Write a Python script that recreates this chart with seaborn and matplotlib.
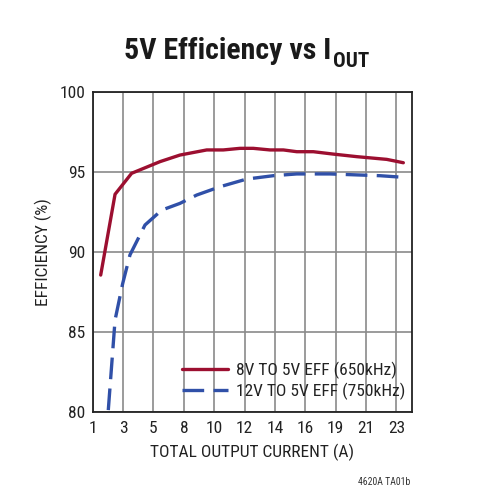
import matplotlib
matplotlib.use("Agg")
import matplotlib.pyplot as plt
import seaborn as sns
import pandas as pd
from matplotlib import font_manager
from matplotlib.font_manager import FontProperties

# ---- data ----
x_8v = [1.58, 2.62, 3.82, 5.88, 7.32, 9.26, 10.46, 11.67, 12.63, 13.84, 14.81,
        15.78, 16.98, 18.43, 20.13, 22.3, 23.5]
eff_8v = [88.54, 93.59, 94.9, 95.63, 96.04, 96.36, 96.36, 96.46, 96.46, 96.36, 96.36,
          96.25, 96.25, 96.1, 95.94, 95.77, 95.56]
x_12v = [2.13, 2.62, 3.17, 3.70, 4.79, 6.0, 7.32, 8.53, 10.22, 12.15, 14.08,
         15.78, 18.19, 20.13, 21.8, 23.5]
eff_12v = [80.1, 85.73, 88.0, 89.8, 91.67, 92.6, 93.02, 93.54, 94.06, 94.54, 94.75,
           94.86, 94.86, 94.8, 94.75, 94.65]
label_8v = "8V TO 5V EFF (650kHz)"
label_12v = "12V TO 5V EFF (750kHz)"
x_tick_pos = [1, 3.2, 5.4, 7.6, 9.8, 12, 14.2, 16.4, 18.6, 20.8, 23]
x_tick_labels = ["1", "3", "5", "8", "10", "12", "14", "16", "19", "21", "23"]
y_ticks = [80, 85, 90, 95, 100]

sns.set_style("white")
plt.rcParams["font.family"] = ["Liberation Sans", "DejaVu Sans"]

# look for a condensed / narrow sans face if one is installed
def find_face(bold):
    best = None
    for f in font_manager.fontManager.ttflist:
        nm = f.name
        fn = f.fname.lower()
        narrow = ("narrow" in nm.lower() or "condensed" in nm.lower()
                  or "condensed" in fn or "narrow" in fn
                  or str(f.stretch).lower() in ("condensed", "semi-condensed"))
        if not narrow:
            continue
        if "italic" in fn or "oblique" in fn or f.style != "normal":
            continue
        w = f.weight if isinstance(f.weight, int) else (700 if "bold" in str(f.weight) else 400)
        isbold = w >= 600 or "bold" in fn
        if isbold != bold:
            continue
        if "light" in fn or "thin" in fn or "black" in fn or "extra" in fn or "semibold" in fn or "medium" in fn:
            continue
        score = 0
        if "liberation" in nm.lower() or "liberation" in fn:
            score = 3
        elif "roboto" in fn:
            score = 2
        elif "dejavu" in fn:
            score = 1
        if best is None or score > best[0]:
            best = (score, f.fname)
    return best[1] if best else None

reg_path = find_face(False)
bold_path = find_face(True)
if reg_path:
    fp = FontProperties(fname=reg_path, size=12.5)
    fp_small = FontProperties(fname=reg_path, size=7)
else:
    fp = FontProperties(family=["Liberation Sans", "DejaVu Sans"], size=11)
    fp_small = FontProperties(family=["Liberation Sans", "DejaVu Sans"], size=6.5)
if bold_path:
    fpt = FontProperties(fname=bold_path, size=21.5)
    fps = FontProperties(fname=bold_path, size=15.2)
else:
    fpt = FontProperties(family=["Liberation Sans", "DejaVu Sans"], weight="bold", size=19)
    fps = FontProperties(family=["Liberation Sans", "DejaVu Sans"], weight="bold", size=14)

df = pd.concat([
    pd.DataFrame({"x": x_8v, "y": eff_8v, "series": label_8v}),
    pd.DataFrame({"x": x_12v, "y": eff_12v, "series": label_12v}),
])

fig = plt.figure(figsize=(4.82, 5.0), dpi=100)
ax = fig.add_axes([0.1923, 0.1766, 0.854 - 0.1923, 0.8166 - 0.1766])

palette = {label_8v: "#9c0f30", label_12v: "#3050a8"}
dashes = {label_8v: "", label_12v: (6.5, 2.8)}
sns.lineplot(data=df, x="x", y="y", hue="series", style="series", palette=palette,
             dashes=dashes, linewidth=2.4, ax=ax, sort=False, estimator=None)

ax.set_xlim(1, 24.1)
ax.set_ylim(80, 100)
ax.set_xticks(x_tick_pos)
ax.set_xticklabels(x_tick_labels, fontproperties=fp)
ax.set_yticks(y_ticks)
ax.set_yticklabels([str(v) for v in y_ticks], fontproperties=fp)
ax.grid(True, color="#8a8a8a", linewidth=1.2)
ax.set_axisbelow(True)
for s in ax.spines.values():
    s.set_color("#222222")
    s.set_linewidth(1.3)
ax.tick_params(axis="y", length=0, colors="#222222", pad=5)
ax.tick_params(axis="x", length=0, colors="#222222", pad=7)
ax.set_xlabel("TOTAL OUTPUT CURRENT (A)", fontproperties=fp, color="#222222", labelpad=5)
ax.set_ylabel("EFFICIENCY (%)", fontproperties=fp, color="#222222", labelpad=6)

leg = ax.legend(loc="lower right", frameon=False, prop=fp, handlelength=2.6,
                handletextpad=0.5, labelspacing=0.2, borderaxespad=0.0,
                bbox_to_anchor=(1.003, 0.0147))
for h in leg.get_lines():
    h.set_linewidth(2.4)
for t in leg.get_texts():
    t.set_color("#222222")

t1 = fig.text(0.258, 0.882, "5V Efficiency vs I", ha="left", va="baseline",
              fontproperties=fpt, color="#1a1a1a")
fig.canvas.draw()
bb = t1.get_window_extent()
fig.text(bb.x1 / fig.bbox.width + 0.002, 0.866, "OUT", ha="left", va="baseline",
         fontproperties=fps, color="#1a1a1a")
fig.text(0.797, 0.036, "4620A TA01b", ha="center", va="center", fontproperties=fp_small,
         color="#333333")

fig.savefig("out.png", dpi=100)
